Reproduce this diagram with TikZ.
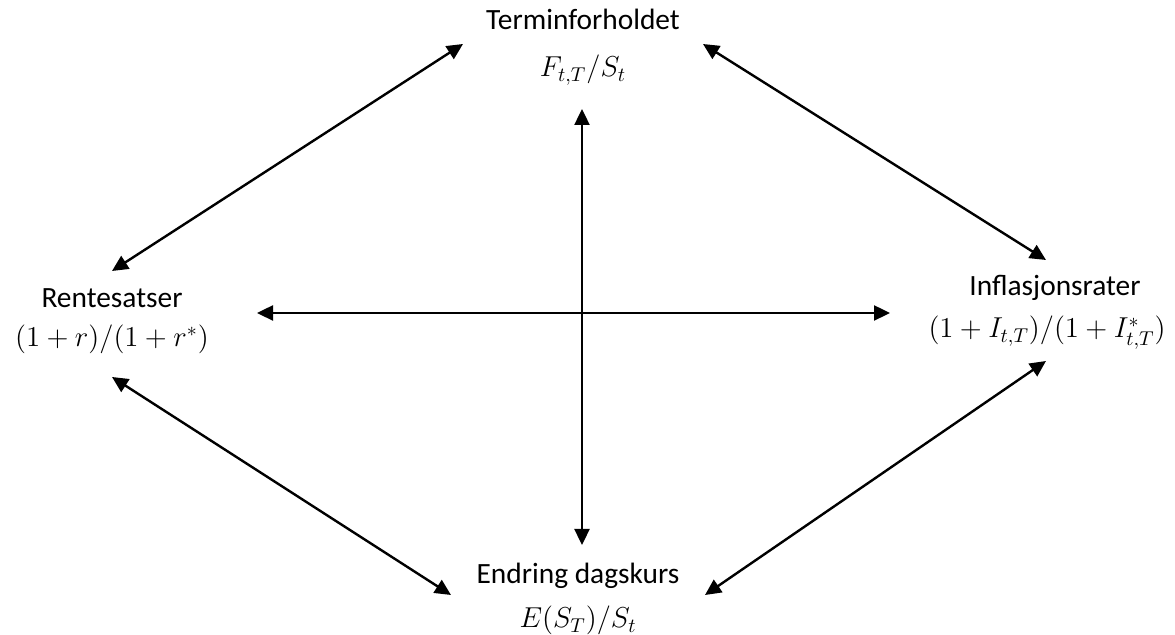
\documentclass[tikz,border=0pt]{standalone}
\usepackage{fontspec}
\setmainfont{Carlito}
\usetikzlibrary{arrows.meta}
\tikzset{
  lbl/.style={anchor=base, inner sep=0pt, font=\fontsize{14.7}{17}\selectfont},
  mth/.style={anchor=base, inner sep=0pt, font=\fontsize{14}{17}\selectfont},
  link/.style={line width=1.2pt, {Triangle[length=8pt,width=7.5pt]}-{Triangle[length=8pt,width=7.5pt]}}
}
\begin{document}
\begin{tikzpicture}[x=0.5pt,y=-0.5pt]
  \useasboundingbox (0,0) rectangle (1175,635);
  % labels
  \node[lbl] (term)  at (583,30)  {Terminforholdet};
  \node[mth] (termm) at (583,77)  {$F_{t,T}/S_t$};
  \node[lbl] (rente) at (112,308) {Rentesatser};
  \node[mth] (rentm) at (112,347) {$(1+r)/(1+r^{*})$};
  \node[lbl] (infl)  at (1055,296) {Inflasjonsrater};
  \node[mth] (inflm) at (1047,338) {$(1+I_{t,T})/(1+I^{*}_{t,T})$};
  \node[lbl] (endr)  at (578,584) {Endring dagskurs};
  \node[mth] (endrm) at (578,628) {$E(S_T)/S_t$};
  % arrow tips
  \coordinate (tlA) at (463,44);  \coordinate (tlB) at (112,271);
  \coordinate (trA) at (703,44);  \coordinate (trB) at (1046,260);
  \coordinate (blA) at (112,377); \coordinate (blB) at (451,595);
  \coordinate (brA) at (1046,361); \coordinate (brB) at (705,595);
  \coordinate (vA) at (582,109);  \coordinate (vB) at (582,545);
  \coordinate (hA) at (257,313);  \coordinate (hB) at (890,313);
  % connectors
  \draw[link] (tlA) -- (tlB);
  \draw[link] (trA) -- (trB);
  \draw[link] (blA) -- (blB);
  \draw[link] (brA) -- (brB);
  \draw[link] (vA) -- (vB);
  \draw[link] (hA) -- (hB);
\end{tikzpicture}
\end{document}
